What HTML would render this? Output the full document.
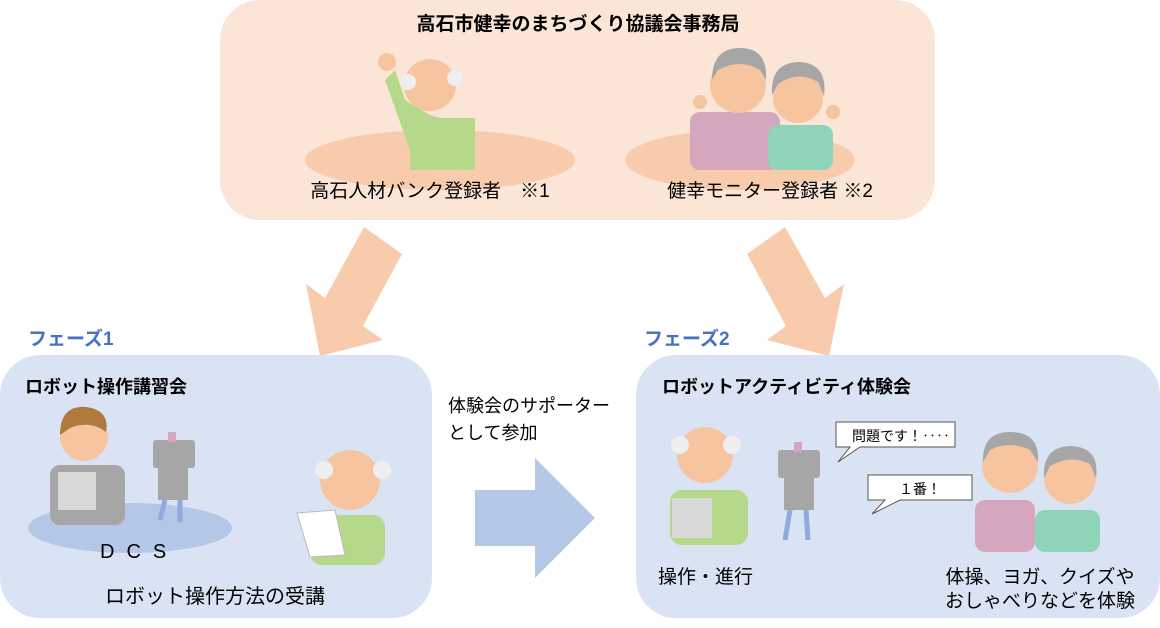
<!DOCTYPE html>
<html><head><meta charset="utf-8"><style>
html,body{margin:0;padding:0;background:#fff;width:1160px;height:628px;overflow:hidden}
svg{display:block}
text{font-family:"Liberation Sans","Noto Sans CJK JP",sans-serif;fill:#000}
.b{font-weight:bold}
</style></head><body>
<svg width="1160" height="628" viewBox="0 0 1160 628" xmlns="http://www.w3.org/2000/svg">
<rect x="220" y="0" width="715" height="220" rx="40" fill="#fbe5d6"/>
<text x="578" y="30" font-size="19" class="b" text-anchor="middle">高石市健幸のまちづくり協議会事務局</text>
<ellipse cx="440" cy="160" rx="135" ry="30" fill="#f8cbad"/>
<ellipse cx="740" cy="160" rx="115" ry="30" fill="#f8cbad"/>
<path d="M385 80 L410 150 L475 150 L465 125 L430 115 L405 100 L395 70 Z" fill="#b5d88a"/>
<rect x="410" y="118" width="65" height="52" fill="#b5d88a"/>
<circle cx="387" cy="62" r="9" fill="#f7c4a0"/>
<circle cx="430" cy="85" r="26" fill="#f7c4a0"/>
<circle cx="408" cy="82" r="8" fill="#eee"/><circle cx="455" cy="78" r="8" fill="#eee"/>
<rect x="690" y="112" width="90" height="58" rx="10" fill="#d5a6bd"/>
<circle cx="738" cy="85" r="28" fill="#f7c4a0"/>
<path d="M712 80 Q712 48 740 48 Q768 48 766 80 L760 70 Q740 58 718 70 Z" fill="#a6a6a6"/>
<rect x="768" y="125" width="65" height="45" rx="10" fill="#8fd3b8"/>
<circle cx="798" cy="98" r="25" fill="#f7c4a0"/>
<path d="M772 95 Q770 62 800 62 Q828 64 824 96 L818 82 Q798 70 778 84 Z" fill="#a6a6a6"/>
<circle cx="700" cy="102" r="7" fill="#f7c4a0"/><circle cx="833" cy="112" r="7" fill="#f7c4a0"/>
<text x="430" y="197" font-size="19" text-anchor="middle">高石人材バンク登録者　※1</text>
<text x="770" y="197" font-size="19" text-anchor="middle">健幸モニター登録者 ※2</text>
<polygon points="364,227 402,254 363,326 383,340 320,356 306,284 325,298" fill="#f8cbad"/>
<polygon points="785,227 747,254 786,326 767,340 829,356 844,284 825,298" fill="#f8cbad"/>
<text x="28" y="345" font-size="19" class="b" style="fill:#4472c4">フェーズ1</text>
<text x="644" y="345" font-size="19" class="b" style="fill:#4472c4">フェーズ2</text>
<rect x="0" y="355" width="432" height="263" rx="40" fill="#dae3f3"/>
<text x="25" y="393" font-size="18" class="b">ロボット操作講習会</text>
<ellipse cx="130" cy="528" rx="102" ry="25" fill="#b4c7e7"/>
<rect x="50" y="465" width="75" height="60" rx="10" fill="#a6a6a6"/>
<circle cx="84" cy="437" r="24" fill="#f7c4a0"/>
<path d="M60 435 Q60 405 86 407 Q110 410 106 432 Q90 420 70 428 Z" fill="#b07a3d"/>
<rect x="58" y="472" width="38" height="38" fill="#d9d9d9"/>
<rect x="153" y="440" width="42" height="28" rx="3" fill="#a6a6a6"/>
<rect x="158" y="468" width="30" height="32" fill="#a6a6a6"/>
<rect x="168" y="432" width="8" height="10" fill="#d5a6bd"/>
<line x1="165" y1="500" x2="160" y2="520" stroke="#8faadc" stroke-width="5"/>
<line x1="180" y1="500" x2="180" y2="522" stroke="#8faadc" stroke-width="5"/>
<text x="100" y="558" font-size="20" letter-spacing="12">DCS</text>
<rect x="310" y="515" width="75" height="50" rx="12" fill="#b5d88a"/>
<circle cx="350" cy="480" r="30" fill="#f7c4a0"/>
<circle cx="324" cy="470" r="9" fill="#eee"/><circle cx="382" cy="470" r="9" fill="#eee"/>
<polygon points="297,513 335,510 345,555 310,557" fill="#fff" stroke="#bbb"/>
<text x="215" y="603" font-size="20" text-anchor="middle">ロボット操作方法の受講</text>
<text x="448" y="412" font-size="18">体験会のサポーター</text>
<text x="448" y="439" font-size="18">として参加</text>
<polygon points="475,490 535,490 535,458 595,518 535,578 535,546 475,546" fill="#b4c7e7"/>
<rect x="636" y="355" width="524" height="263" rx="40" fill="#dae3f3"/>
<text x="662" y="393" font-size="18" class="b">ロボットアクティビティ体験会</text>
<rect x="670" y="490" width="78" height="55" rx="12" fill="#b5d88a"/>
<circle cx="705" cy="455" r="28" fill="#f7c4a0"/>
<circle cx="680" cy="445" r="9" fill="#eee"/><circle cx="732" cy="445" r="9" fill="#eee"/>
<rect x="672" y="498" width="40" height="40" fill="#d9d9d9"/>
<rect x="778" y="450" width="42" height="28" rx="3" fill="#a6a6a6"/>
<rect x="784" y="478" width="30" height="32" fill="#a6a6a6"/>
<rect x="794" y="442" width="8" height="10" fill="#d5a6bd"/>
<line x1="790" y1="510" x2="785" y2="540" stroke="#8faadc" stroke-width="5"/>
<line x1="806" y1="510" x2="808" y2="540" stroke="#8faadc" stroke-width="5"/>
<text x="658" y="583" font-size="19">操作・進行</text>
<path d="M836 422 H955 V447 H860 L838 462 L850 447 H836 Z" fill="#fff" stroke="#555"/>
<text x="852" y="441" font-size="14">問題です！‥‥</text>
<path d="M868 475 H972 V500 H900 L872 514 L885 500 H868 Z" fill="#fff" stroke="#555"/>
<text x="920" y="494" font-size="14" text-anchor="middle">１番！</text>
<rect x="975" y="500" width="60" height="52" rx="10" fill="#d5a6bd"/>
<circle cx="1010" cy="465" r="28" fill="#f7c4a0"/>
<path d="M983 462 Q982 432 1010 432 Q1040 432 1038 462 L1030 450 Q1010 440 990 450 Z" fill="#a6a6a6"/>
<rect x="1035" y="510" width="65" height="42" rx="10" fill="#8fd3b8"/>
<circle cx="1070" cy="478" r="26" fill="#f7c4a0"/>
<path d="M1044 478 Q1042 446 1072 446 Q1100 448 1096 478 L1090 464 Q1070 454 1050 466 Z" fill="#a6a6a6"/>
<text x="1040" y="583" font-size="19" text-anchor="middle">体操、ヨガ、クイズや</text>
<text x="1040" y="607" font-size="19" text-anchor="middle">おしゃべりなどを体験</text>
</svg>
</body></html>
